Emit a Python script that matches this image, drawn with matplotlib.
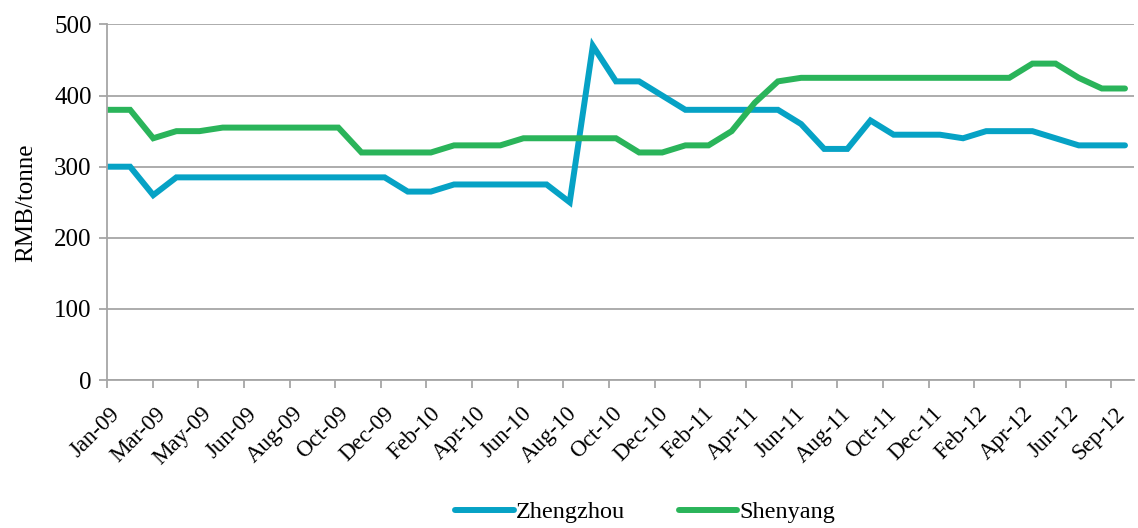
import numpy as np
import matplotlib
matplotlib.use("Agg")
from matplotlib import pyplot as plt

# monthly prices, RMB/tonne (45 observations, Jan-09 .. Oct-12)
zhengzhou = [300, 300, 260, 285, 285, 285, 285, 285, 285, 285,
             285, 285, 285, 265, 265, 275, 275, 275, 275, 275,
             250, 470, 420, 420, 400, 380, 380, 380, 380, 380,
             360, 325, 325, 365, 345, 345, 345, 340, 350, 350,
             350, 340, 330, 330, 330]
shenyang = [380, 380, 340, 350, 350, 355, 355, 355, 355, 355,
            355, 320, 320, 320, 320, 330, 330, 330, 340, 340,
            340, 340, 340, 320, 320, 330, 330, 350, 390, 420,
            425, 425, 425, 425, 425, 425, 425, 425, 425, 425,
            445, 445, 425, 410, 410]

tick_labels = ["Jan-09", "Mar-09", "May-09", "Jun-09", "Aug-09", "Oct-09",
               "Dec-09", "Feb-10", "Apr-10", "Jun-10", "Aug-10", "Oct-10",
               "Dec-10", "Feb-11", "Apr-11", "Jun-11", "Aug-11", "Oct-11",
               "Dec-11", "Feb-12", "Apr-12", "Jun-12", "Sep-12"]

blue = "#06a2c5"
green = "#2ab45a"
grey = "#a6a6a6"

plt.rcParams['font.family'] = ['Liberation Serif', 'DejaVu Serif']
plt.rcParams['font.size'] = 16

fig = plt.figure(figsize=(11.38, 5.28), dpi=100)
ax = fig.add_axes([0.094, 0.2803, 0.9025, 0.6733])

x = np.arange(len(zhengzhou))
ax.plot(x, zhengzhou, color=blue, lw=4.3, solid_capstyle='round',
        solid_joinstyle='miter', label="Zhengzhou")
ax.plot(x, shenyang, color=green, lw=4.3, solid_capstyle='round',
        solid_joinstyle='miter', label="Shenyang")

# axis a bit wider than the data, category ticks every two slots
xmax = 44.39
ax.set_xlim(0, xmax)
ax.set_ylim(0, 500)
unit = xmax / 45
ax.set_xticks(np.arange(len(tick_labels)) * 2 * unit)
ax.set_xticklabels([])
ax.set_xticks((np.arange(len(tick_labels)) * 2 + 0.45) * unit, minor=True)
ax.set_xticklabels(tick_labels, minor=True, rotation=45, ha='right',
                   va='center', rotation_mode='anchor', fontsize=16.5)
ax.tick_params(axis='x', which='major', length=6, width=1.3, color=grey)
ax.tick_params(axis='x', which='minor', length=0, pad=22)

ax.set_yticks(range(0, 501, 100))
ax.tick_params(axis='y', length=6, width=1.3, color=grey, pad=5,
               labelsize=18)
ax.yaxis.grid(True, color=grey, lw=1.3)
ax.set_axisbelow(True)
for s in ['top', 'right']:
    ax.spines[s].set_visible(False)
for s in ['left', 'bottom']:
    ax.spines[s].set_color(grey)
    ax.spines[s].set_linewidth(1.3)

ax.set_ylabel("RMB/tonne", labelpad=12, fontsize=18)

fig.legend(loc='center', bbox_to_anchor=(0.567, 0.03), ncol=2, frameon=False,
           handlelength=2.4, handletextpad=0.1, columnspacing=2.2, fontsize=17.5)

fig.savefig("out.png", dpi=100)
